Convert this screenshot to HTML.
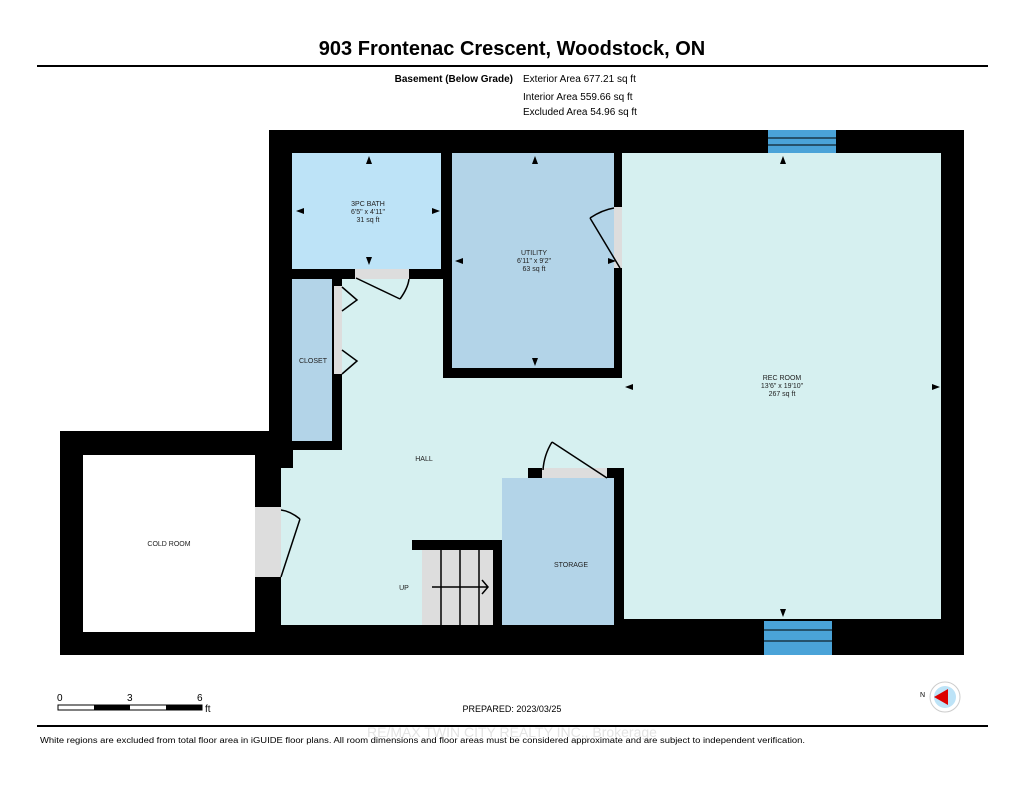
<!DOCTYPE html>
<html><head><meta charset="utf-8"><style>
html,body{margin:0;padding:0;background:#fff;}
svg{display:block;font-family:"Liberation Sans",Arial,sans-serif;}
</style></head><body>
<svg width="1024" height="791" viewBox="0 0 1024 791" xmlns="http://www.w3.org/2000/svg">
<rect width="1024" height="791" fill="#fff"/>
<text x="512" y="55" text-anchor="middle" font-size="20" font-weight="bold">903 Frontenac Crescent, Woodstock, ON</text>
<rect x="37" y="65" width="951" height="2" fill="#000"/>
<text x="513" y="82" text-anchor="end" font-size="10" font-weight="bold">Basement (Below Grade)</text>
<text x="523" y="82" font-size="10">Exterior Area 677.21 sq ft</text>
<text x="523" y="100" font-size="10">Interior Area 559.66 sq ft</text>
<text x="523" y="115" font-size="10">Excluded Area 54.96 sq ft</text>

<rect x="269" y="130" width="695" height="525" fill="#000"/>
<rect x="60" y="431" width="215" height="224" fill="#000"/>
<rect x="83" y="455" width="172" height="177" fill="#fff"/>
<rect x="622" y="153" width="319" height="466" fill="#d6f0f0"/>
<rect x="281" y="279" width="341" height="346" fill="#d6f0f0"/>
<rect x="281" y="279" width="61" height="171" fill="#000"/>
<rect x="269" y="450" width="24" height="18" fill="#000"/>
<rect x="443" y="279" width="179" height="99" fill="#000"/>
<rect x="292" y="153" width="149" height="116" fill="#bde3f7"/>
<rect x="355" y="269" width="54" height="10" fill="#ddd"/>
<rect x="452" y="153" width="162" height="215" fill="#b3d4e8"/>
<rect x="614" y="207" width="8" height="61" fill="#ddd"/>
<rect x="292" y="279" width="40" height="162" fill="#b3d4e8"/>
<rect x="334" y="286" width="8" height="88" fill="#ddd"/>
<rect x="255" y="507" width="26" height="70" fill="#ddd"/>
<rect x="412" y="540" width="126" height="10" fill="#000"/>
<rect x="528" y="468" width="96" height="10" fill="#000"/>
<rect x="528" y="468" width="10" height="82" fill="#000"/>
<rect x="614" y="468" width="10" height="157" fill="#000"/>
<rect x="493" y="550" width="9" height="75" fill="#000"/>
<rect x="422" y="550" width="71" height="75" fill="#ddd"/>
<g stroke="#000" stroke-width="1.5"><line x1="441" y1="550" x2="441" y2="625"/><line x1="460" y1="550" x2="460" y2="625"/><line x1="479" y1="550" x2="479" y2="625"/></g>
<rect x="502" y="478" width="112" height="147" fill="#b3d4e8"/>
<rect x="542" y="468" width="65" height="10" fill="#ddd"/>
<rect x="768" y="130" width="68" height="23" fill="#4aa3d8"/>
<g stroke="#000"><line x1="768" y1="138" x2="836" y2="138"/><line x1="768" y1="145" x2="836" y2="145"/></g>
<rect x="764" y="621" width="68" height="34" fill="#4aa3d8"/>
<g stroke="#000"><line x1="764" y1="630" x2="832" y2="630"/><line x1="764" y1="641" x2="832" y2="641"/></g>
<g stroke="#000" stroke-width="1.5" fill="none">
<path d="M356 278 L400 299 M400 299 Q408 288 409 279"/>
<path d="M620 268 L590 218 M590 218 Q602 210 614 208"/>
<path d="M342 287 L357 300 L342 311 M342 350 L357 361 L342 374"/>
<path d="M281 577 L300 519 M300 519 Q290 511 281 510"/>
<path d="M607 478 L552 442 M552 442 Q544 455 543 470"/>
<path d="M432 587 L488 587 M482 580 L488 587 L482 594"/>
</g>
<g fill="#000">
<path d="M369 156 l-3 8 h6z"/><path d="M369 265 l-3 -8 h6z"/>
<path d="M296 211 l8 -3 v6z"/><path d="M440 211 l-8 -3 v6z"/>
<path d="M535 156 l-3 8 h6z"/><path d="M535 366 l-3 -8 h6z"/>
<path d="M455 261 l8 -3 v6z"/><path d="M616 261 l-8 -3 v6z"/>
<path d="M783 156 l-3 8 h6z"/><path d="M783 617 l-3 -8 h6z"/>
<path d="M625 387 l8 -3 v6z"/><path d="M940 387 l-8 -3 v6z"/>
</g>
<g font-size="7" text-anchor="middle" fill="#222">
<text x="368" y="206">3PC BATH</text><text x="368" y="214">6'5" x 4'11"</text><text x="368" y="222">31 sq ft</text>
<text x="534" y="255">UTILITY</text><text x="534" y="263">6'11" x 9'2"</text><text x="534" y="271">63 sq ft</text>
<text x="782" y="380">REC ROOM</text><text x="782" y="388">13'6" x 19'10"</text><text x="782" y="396">267 sq ft</text>
<text x="313" y="363">CLOSET</text>
<text x="424" y="461">HALL</text>
<text x="169" y="546">COLD ROOM</text>
<text x="571" y="567">STORAGE</text>
<text x="404" y="590">UP</text>
</g>
<g font-size="10">
<text x="57" y="701">0</text><text x="127" y="701">3</text><text x="197" y="701">6</text><text x="205" y="712">ft</text>
</g>
<rect x="58" y="705" width="144" height="5" fill="#fff" stroke="#000" stroke-width="1"/>
<rect x="94" y="705" width="36" height="5" fill="#000"/><rect x="166" y="705" width="36" height="5" fill="#000"/>
<text x="512" y="712" text-anchor="middle" font-size="9">PREPARED: 2023/03/25</text>
<circle cx="945" cy="697" r="15" fill="#fff" stroke="#ccc"/>
<circle cx="945" cy="697" r="11" fill="#bde3f7"/>
<path d="M934 697 L948 689 L948 705 Z" fill="#d00"/>
<text x="920" y="697" font-size="7">N</text>
<rect x="37" y="725" width="951" height="2" fill="#000"/>
<text x="512" y="737" text-anchor="middle" font-size="14" fill="#e4e4e4">RE/MAX TWIN CITY REALTY INC., Brokerage</text>
<text x="40" y="743" font-size="8" textLength="765" lengthAdjust="spacingAndGlyphs">White regions are excluded from total floor area in iGUIDE floor plans. All room dimensions and floor areas must be considered approximate and are subject to independent verification.</text>
</svg>
</body></html>
